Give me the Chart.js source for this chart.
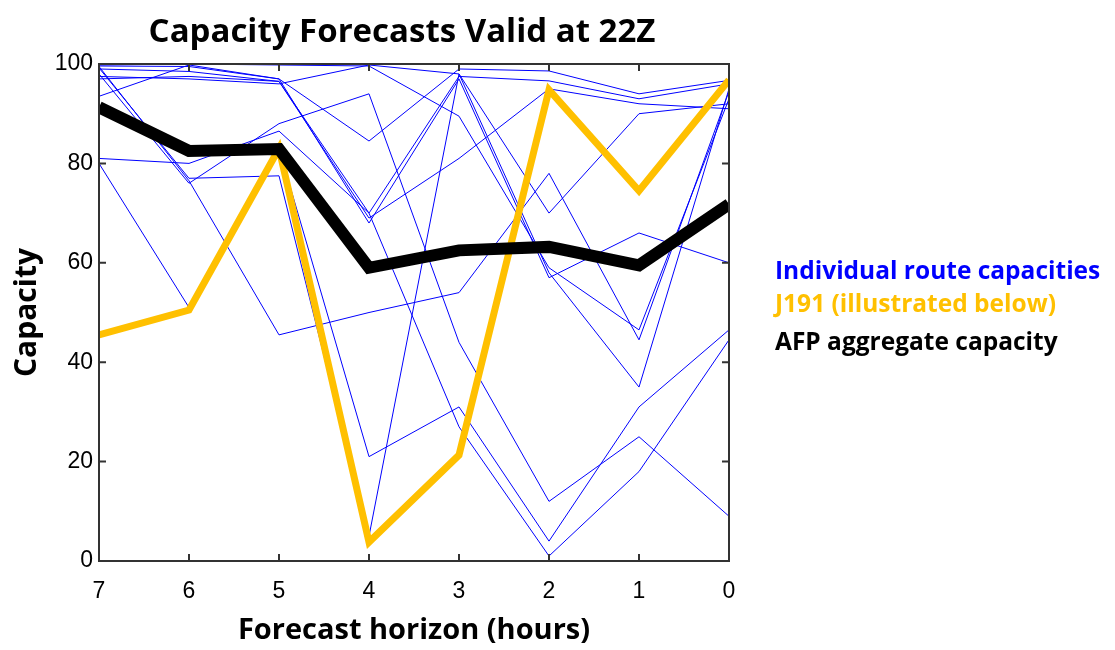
<!DOCTYPE html>
<html lang="en">
<head>
    <meta charset="UTF-8">
    <title>Capacity Forecasts Valid at 22Z</title>
    <script src="https://cdn.jsdelivr.net/npm/chart.js@4.4.1/dist/chart.umd.min.js"></script>
    <style>
        body { margin: 0; background: #fff; }
        #wrap { position: relative; width: 1115px; height: 650px; }
        #chart-title {
            position: absolute; left: 0; width: 804px; top: 13px;
            text-align: center; font-family: "Open Sans", Lato, sans-serif;
            font-weight: bold; font-size: 33px; line-height: 33px; color: #000;
        }
        .legend-item {
            position: absolute; left: 775px;
            font-family: "Open Sans", Lato, sans-serif;
            font-weight: bold; font-size: 24.5px; line-height: 24px; white-space: nowrap;
        }
    </style>
</head>
<body>
<div id="wrap">
    <canvas id="capChart" width="1115" height="650"></canvas>
    <div id="chart-title">Capacity Forecasts Valid at 22Z</div>
    <div class="legend-item" style="top:258px;color:#0000ff">Individual route capacities</div>
    <div class="legend-item" style="top:291px;color:#ffc000">J191 (illustrated below)</div>
    <div class="legend-item" style="top:329px;color:#000">AFP aggregate capacity</div>
</div>

<script>
// forecast horizon, hours before 22Z
const hours = [7, 6, 5, 4, 3, 2, 1, 0];
const yTicks = [0, 20, 40, 60, 80, 100];

// AFP aggregate capacity (black)
const aggregateCapacity = [91.3, 82.5, 82.9, 59, 62.5, 63.2, 59.5, 71.8];
// J191 route (orange)
const j191Capacity = [45.5, 50.5, 83, 3.8, 21.3, 94.8, 74.5, 96.8];

// individual route capacities (blue), read by eye
const route01 = [99.8, 100, 99.8, 99.6, 89.5, 59, 46.5, 93];
const route02 = [93.5, 99.8, 97, 84.5, 99, 98.6, 94, 96.7];
const route03 = [97, 97.5, 96.5, 69, 81, 95, 92, 91];
const route04 = [99, 98.5, 96.5, 70, 97.5, 96.6, 93, 96];
const route05 = [98, 76, 88, 94, 44, 12, 25, 9];
const route06 = [99.5, 76.5, 45.5, 50, 54, 78, 44.5, 94.5];
const route07 = [81, 80, 86.5, 70, 27, 1, 18, 44.5];
const route08 = [80, 51, 83, 21, 31, 4, 31, 46.5];
const route09 = [99.2, 77, 77.5, 5, 98, 58, 35, 95];
const route10 = [99.6, 99.5, 97, 68, 97, 57, 66, 60];
const route11 = [97.5, 97, 96, 99.8, 98, 70, 90, 92];

const routes = [route01, route02, route03, route04, route05, route06,
                route07, route08, route09, route10, route11];

function toPoints(values) {
    return values.map((v, i) => ({ x: hours[i], y: v }));
}

const datasets = routes.map(r => ({
    data: toPoints(r),
    borderColor: '#0000ff',
    borderWidth: 1,
    pointRadius: 0,
    order: 3
}));
datasets.push({
    data: toPoints(j191Capacity),
    borderColor: '#ffc000',
    borderWidth: 7,
    borderJoinStyle: 'miter',
    pointRadius: 0,
    order: 2
});
datasets.push({
    data: toPoints(aggregateCapacity),
    borderColor: '#000',
    borderWidth: 12,
    borderJoinStyle: 'miter',
    pointRadius: 0,
    order: 1
});

// box around the plot with inward ticks on all four sides
const frame = {
    id: 'frame',
    afterDatasetsDraw(chart) {
        const { ctx, chartArea: a, scales: { x, y } } = chart;
        ctx.save();
        ctx.strokeStyle = '#333';
        ctx.lineWidth = 2;
        ctx.strokeRect(a.left, a.top, a.right - a.left, a.bottom - a.top);
        ctx.beginPath();
        hours.forEach(h => {
            const px = x.getPixelForValue(h);
            ctx.moveTo(px, a.bottom); ctx.lineTo(px, a.bottom - 7);
            ctx.moveTo(px, a.top); ctx.lineTo(px, a.top + 7);
        });
        yTicks.forEach(v => {
            const py = y.getPixelForValue(v);
            ctx.moveTo(a.left, py); ctx.lineTo(a.left + 7, py);
            ctx.moveTo(a.right, py); ctx.lineTo(a.right - 7, py);
        });
        ctx.stroke();
        ctx.restore();
    }
};

const tickFont = { family: '"Liberation Sans", Arial, sans-serif', size: 23 };
const titleFamily = '"Open Sans", Lato, sans-serif';

new Chart(document.getElementById('capChart'), {
    type: 'line',
    data: { datasets },
    options: {
        responsive: false,
        animation: false,
        devicePixelRatio: 1,
        layout: { padding: { top: 64, right: 386, left: 0, bottom: 0 } },
        plugins: { legend: { display: false }, tooltip: { enabled: false }, title: { display: false } },
        scales: {
            x: {
                type: 'linear',
                min: 0, max: 7,
                reverse: true,
                grid: { display: false, drawTicks: false },
                border: { display: false },
                ticks: { stepSize: 1, padding: 17, color: '#000', font: tickFont, maxRotation: 0 },
                title: {
                    display: true, text: 'Forecast horizon (hours)', color: '#000',
                    font: { family: titleFamily, size: 29, weight: 'bold' },
                    padding: { top: 0, bottom: 2 }
                },
                afterFit(s) { s.height = 89; }
            },
            y: {
                min: 0, max: 100,
                grid: { display: false, drawTicks: false },
                border: { display: false },
                ticks: { stepSize: 20, padding: 6, color: '#000', font: tickFont },
                title: {
                    display: true, text: 'Capacity', color: '#000',
                    font: { family: titleFamily, size: 30, weight: 'bold' },
                    padding: { top: 9, bottom: 0 }
                },
                afterFit(s) { s.width = 99; }
            }
        }
    },
    plugins: [frame]
});
</script>
</body>
</html>
